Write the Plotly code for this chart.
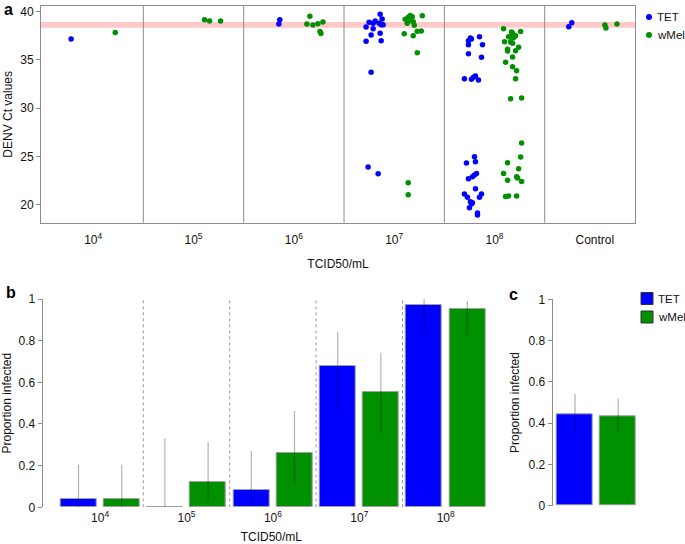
import plotly.graph_objects as go

W, H = 685, 544

# ---------------- DATA ----------------
# Panel a: Ct values per mosquito (x = group index + jitter)
groups_a = ["10<sup>4</sup>", "10<sup>5</sup>", "10<sup>6</sup>", "10<sup>7</sup>", "10<sup>8</sup>", "Control"]

tet_x = [0.78,
         2.86, 2.85,
         3.86, 3.72, 3.75, 3.79, 3.81, 3.79, 3.85, 3.87, 3.88, 3.89, 3.77, 3.86, 3.72, 3.87, 3.77, 3.74, 3.84,
         4.70, 4.77, 4.79, 4.81, 4.84, 4.76, 4.77, 4.74, 4.74, 4.85, 4.88, 4.74, 4.87, 4.80, 4.81, 4.72,
         4.82, 4.80, 4.78, 4.74, 4.81, 4.70, 4.73, 4.87, 4.85, 4.76, 4.78, 4.77, 4.75, 4.83, 4.83,
         5.74, 5.77]
tet_y = [37.14,
         39.13, 38.69,
         39.69, 38.38, 38.86, 38.76, 39.00, 38.20, 38.76, 38.62, 39.20, 38.62, 37.55, 37.72, 36.90, 36.96, 33.70, 23.90, 23.20,
         33.03, 32.97, 33.17, 33.31, 32.90, 37.24, 37.14, 36.96, 36.55, 37.38, 36.55, 35.62, 35.24, 24.97, 24.45, 24.31,
         23.24, 23.07, 22.90, 22.69, 21.65, 21.10, 20.76, 21.10, 20.76, 20.30, 20.20, 20.07, 19.69, 19.14, 18.93,
         38.41, 38.83]

wmel_x = [1.22,
          2.11, 2.16, 2.27,
          3.13, 3.16, 3.19, 3.24, 3.26, 3.27, 3.29,
          4.11, 4.14, 4.16, 4.18, 4.13, 4.15, 4.19, 4.20, 4.28, 4.10, 4.19, 4.23, 4.27, 4.23, 4.14, 4.14,
          5.09, 5.17, 5.18, 5.26, 5.21, 5.14, 5.17, 5.19, 5.10, 5.16, 5.18, 5.13, 5.24, 5.13, 5.21, 5.18,
          5.11, 5.18, 5.22, 5.21, 5.16, 5.27, 5.27, 5.26, 5.13, 5.24, 5.09, 5.22, 5.23, 5.13, 5.27, 5.11, 5.14, 5.22,
          6.10, 6.11, 6.22]
wmel_y = [37.80,
          39.13, 39.00, 39.00,
          38.69, 39.48, 38.58, 38.72, 37.90, 37.70, 38.90,
          39.17, 39.38, 39.58, 39.44, 38.76, 39.03, 38.93, 38.55, 39.55, 37.69, 37.48, 37.93, 37.96, 35.72, 22.28, 21.03,
          38.20, 37.86, 37.72, 37.90, 37.48, 37.38, 37.27, 37.27, 36.86, 36.83, 36.69, 36.07, 36.28, 35.90, 35.93, 35.28,
          34.73, 34.28, 33.86, 33.03, 30.96, 31.03, 26.38, 24.93, 24.35, 23.72, 23.24, 22.90, 22.76, 22.52, 22.41, 20.86, 20.90, 20.90,
          38.58, 38.27, 38.69]

cutoff_low, cutoff_high = 38.3, 38.9
yticks_a = [20, 25, 30, 35, 40]

# Panel b: proportion infected by dose, with CIs
doses_b = ["10<sup>4</sup>", "10<sup>5</sup>", "10<sup>6</sup>", "10<sup>7</sup>", "10<sup>8</sup>"]
tet_prop = [0.04, 0.0, 0.083, 0.68, 0.969]
tet_lo = [0.001, 0.0, 0.01, 0.465, 0.838]
tet_hi = [0.204, 0.331, 0.27, 0.843, 0.999]
wmel_prop = [0.04, 0.12, 0.26, 0.552, 0.95]
wmel_lo = [0.001, 0.025, 0.11, 0.357, 0.822]
wmel_hi = [0.204, 0.313, 0.462, 0.742, 0.99]

# Panel c: overall proportion infected
overall_prop = [0.444, 0.434]
overall_lo = [0.351, 0.351]
overall_hi = [0.541, 0.519]

prop_ticks = [0, 0.2, 0.4, 0.6, 0.8, 1]
prop_ticktext = ["0", "0.2", "0.4", "0.6", "0.8", "1"]

# ---------------- STYLE ----------------
BLUE = "#0000FF"
GREEN = "#009000"
AX = "#8c8c8c"
FONT = "Liberation Sans, Arial, sans-serif"
ERR = "rgba(0,0,0,0.3)"


def px(x):
    return x / W


def py(y):
    return 1 - y / H


fig = go.Figure()

# ---- panel a ----
fig.add_trace(go.Scatter(x=tet_x, y=tet_y, mode="markers", name="TET",
                         marker=dict(color=BLUE, size=5.5), xaxis="x", yaxis="y"))
fig.add_trace(go.Scatter(x=wmel_x, y=wmel_y, mode="markers", name="wMel",
                         marker=dict(color=GREEN, size=5.5), xaxis="x", yaxis="y"))

# ---- panel b ----
bw = 0.833
tet_pos = [2 * i + 1 for i in range(len(doses_b))]
wmel_pos = [2 * i + 2 for i in range(len(doses_b))]
fig.add_trace(go.Bar(x=tet_pos, y=tet_prop, width=bw, name="TET",
                     marker=dict(color=BLUE, line=dict(color="#a0a0a0", width=1)),
                     error_y=dict(type="data", symmetric=False,
                                  array=[h - p for h, p in zip(tet_hi, tet_prop)],
                                  arrayminus=[p - l for p, l in zip(tet_prop, tet_lo)],
                                  width=0, color=ERR, thickness=1.2),
                     xaxis="x2", yaxis="y2"))
fig.add_trace(go.Bar(x=wmel_pos, y=wmel_prop, width=bw, name="wMel",
                     marker=dict(color=GREEN, line=dict(color="#a0a0a0", width=1)),
                     error_y=dict(type="data", symmetric=False,
                                  array=[h - p for h, p in zip(wmel_hi, wmel_prop)],
                                  arrayminus=[p - l for p, l in zip(wmel_prop, wmel_lo)],
                                  width=0, color=ERR, thickness=1.2),
                     xaxis="x2", yaxis="y2"))

# ---- panel c ----
fig.add_trace(go.Bar(x=[1, 2], y=overall_prop, width=bw,
                     marker=dict(color=[BLUE, GREEN], line=dict(color="#a0a0a0", width=1)),
                     error_y=dict(type="data", symmetric=False,
                                  array=[h - p for h, p in zip(overall_hi, overall_prop)],
                                  arrayminus=[p - l for p, l in zip(overall_prop, overall_lo)],
                                  width=0, color=ERR, thickness=1.2),
                     xaxis="x3", yaxis="y3"))

shapes = []
# cutoff band
shapes.append(dict(type="rect", xref="x domain", yref="y", x0=0, x1=1,
                   y0=cutoff_low, y1=cutoff_high, fillcolor="rgba(255,120,120,0.4)",
                   line=dict(width=0), layer="below"))
# group dividers panel a
for i in range(1, len(groups_a)):
    shapes.append(dict(type="line", xref="x", yref="y domain", x0=i + 0.5, x1=i + 0.5,
                       y0=0, y1=1, line=dict(color=AX, width=1)))
# group dividers panel b
for i in range(1, len(doses_b)):
    shapes.append(dict(type="line", xref="x2", yref="y2", x0=2 * i + 0.5, x1=2 * i + 0.5,
                       y0=0, y1=1, line=dict(color="#999999", width=1, dash="dot"), layer="below"))

# custom legends
leg_items = [("TET", BLUE), ("wMel", GREEN)]
annotations = []
for k, (lab, col) in enumerate(leg_items):
    cy = 17 + 18 * k
    shapes.append(dict(type="circle", xref="paper", yref="paper",
                       x0=px(646), x1=px(652), y0=py(cy + 3), y1=py(cy - 3),
                       fillcolor=col, line=dict(color=col, width=0)))
    annotations.append(dict(text=lab, xref="paper", yref="paper", x=px(655.5), y=py(cy),
                            xanchor="left", yanchor="middle", showarrow=False, borderpad=0,
                            font=dict(size=11.5, color="#111")))
    cy2 = 298.5 + 18.5 * k
    shapes.append(dict(type="rect", xref="paper", yref="paper",
                       x0=px(641), x1=px(653), y0=py(cy2 + 6), y1=py(cy2 - 6),
                       fillcolor=col, line=dict(color="#333333", width=1)))
    annotations.append(dict(text=lab, xref="paper", yref="paper", x=px(656.5), y=py(cy2),
                            xanchor="left", yanchor="middle", showarrow=False, borderpad=0,
                            font=dict(size=11.5, color="#111")))

for lab, x, y in [("a", 2, 9), ("b", 4, 292), ("c", 507, 294)]:
    annotations.append(dict(text="<b>%s</b>" % lab, xref="paper", yref="paper",
                            x=px(x), y=py(y), xanchor="left", yanchor="middle",
                            showarrow=False, font=dict(size=16, color="black")))

tickfont = dict(size=12, color="#111")
titlefont = dict(size=12, color="#111")

fig.update_layout(
    width=W, height=H, margin=dict(l=0, r=0, t=0, b=0, autoexpand=False),
    paper_bgcolor="white", plot_bgcolor="white", showlegend=False,
    font=dict(family=FONT, size=12, color="#111"),
    barmode="overlay", bargap=0, hovermode=False,
    xaxis=dict(domain=[px(41), px(635)], range=[0.48, 6.4], tickvals=list(range(1, len(groups_a) + 1)),
               ticktext=groups_a, ticks="", showline=True, mirror=True, linecolor=AX, linewidth=1,
               showgrid=False, zeroline=False, tickfont=tickfont, ticklabelstandoff=6, automargin=False,
               title=dict(text="TCID50/mL", font=titlefont, standoff=13), anchor="y"),
    yaxis=dict(domain=[py(222.7), py(6)], range=[18.14, 40.55], tickvals=yticks_a,
               ticks="outside", ticklen=4, tickcolor=AX, showline=True, mirror=True, automargin=False,
               linecolor=AX, linewidth=1, showgrid=False, zeroline=False, tickfont=tickfont,
               title=dict(text="DENV Ct values", font=titlefont, standoff=5), anchor="x"),
    xaxis2=dict(domain=[px(42.7), px(500)], range=[0.171, 10.757],
                tickvals=[2 * i + 1.5 for i in range(len(doses_b))], ticktext=doses_b,
                ticks="", showline=False, showgrid=False, zeroline=False, tickfont=tickfont,
                ticklabelstandoff=2, automargin=False,
                title=dict(text="TCID50/mL", font=titlefont, standoff=9), anchor="y2"),
    yaxis2=dict(domain=[py(507.3), py(299)], range=[0, 1], tickvals=prop_ticks, ticktext=prop_ticktext,
                ticks="outside", ticklen=4, tickcolor=AX, showline=True, linecolor=AX, linewidth=1,
                showgrid=False, zeroline=False, tickfont=tickfont, automargin=False,
                title=dict(text="Proportion infected", font=titlefont, standoff=6), anchor="x2"),
    xaxis3=dict(domain=[px(552.7), px(640)], range=[0.484, 2.505], showticklabels=False, automargin=False,
                ticks="", showline=False, showgrid=False, zeroline=False, anchor="y3"),
    yaxis3=dict(domain=[py(505.7), py(299.3)], range=[0, 1], tickvals=prop_ticks, ticktext=prop_ticktext,
                ticks="outside", ticklen=4, tickcolor=AX, showline=True, linecolor=AX, linewidth=1,
                showgrid=False, zeroline=False, tickfont=tickfont, automargin=False,
                title=dict(text="Proportion infected", font=titlefont, standoff=6), anchor="x3"),
    shapes=shapes, annotations=annotations,
)

fig.write_html("out.html", config={"displayModeBar": False},
               post_script="document.body.style.margin='0';document.body.style.overflow='hidden';")
